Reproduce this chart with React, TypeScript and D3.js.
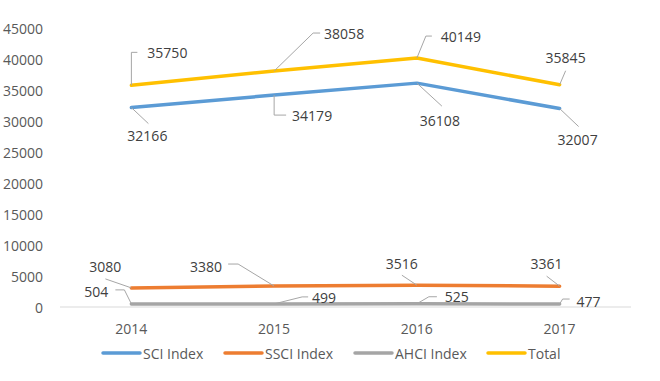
import React from "react";
import * as d3 from "d3";

const years = ["2014", "2015", "2016", "2017"];
const seriesNames = ["SCI Index", "SSCI Index", "AHCI Index", "Total"];
const sci = [32166, 34179, 36108, 32007];
const ssci = [3080, 3380, 3516, 3361];
const ahci = [504, 499, 525, 477];
const total = [35750, 38058, 40149, 35845];
const yTicks = [0, 5000, 10000, 15000, 20000, 25000, 30000, 35000, 40000, 45000];

const colors = ["#5B9BD5", "#ED7D31", "#A5A5A5", "#FFC000"];

// label layout: text center offset [dx, dy] and leader polyline (relative to point)
type Lab = { t: [number, number]; l: [number, number][] };
const sciLabels: Lab[] = [
  { t: [16, 28], l: [[0, 0], [17, 16]] },
  { t: [38, 20], l: [[0, 0], [0, 20], [12, 20]] },
  { t: [23, 37], l: [[0, 0], [25, 23]] },
  { t: [18, 31], l: [[0, 0], [19, 18]] },
];
const ssciLabels: Lab[] = [
  { t: [-26, -21], l: [[0, 0], [-26, -9]] },
  { t: [-68, -20], l: [[0, 0], [-36, -22], [-46, -22]] },
  { t: [-15, -22], l: [[0, 0], [-15, -10]] },
  { t: [-13, -23], l: [[0, 0], [-13, -10]] },
];
const ahciLabels: Lab[] = [
  { t: [-35, -12], l: [[0, 0], [-7, -14], [-16, -14]] },
  { t: [50, -6], l: [[0, 0], [28, -7], [34, -7]] },
  { t: [40, -7], l: [[0, 0], [12, -7], [20, -7]] },
  { t: [29, -3], l: [[0, 0], [3, -5], [10, -5]] },
];
const totalLabels: Lab[] = [
  { t: [36, -33], l: [[0, 0], [0, -33], [6, -33]] },
  { t: [70, -38], l: [[0, 0], [39, -38], [46, -38]] },
  { t: [44, -22], l: [[0, 0], [9, -22], [15, -22]] },
  { t: [6, -27], l: [[0, 0], [6, -14]] },
];

const series = [
  { name: seriesNames[0], values: sci, labels: sciLabels },
  { name: seriesNames[1], values: ssci, labels: ssciLabels },
  { name: seriesNames[2], values: ahci, labels: ahciLabels },
  { name: seriesNames[3], values: total, labels: totalLabels },
];

const W = 660;
const H = 381;
const FONT = "'Open Sans', 'Liberation Sans', sans-serif";
const TEXT = "#595959";

export default function App() {
  const x = d3.scaleBand().domain(years).range([60, 631]);
  const cx = (d: string) => (x(d) as number) + x.bandwidth() / 2;
  const y = d3.scaleLinear().domain([0, 45000]).range([307, 28]);
  const line = d3
    .line<number>()
    .x((_, i) => cx(years[i]))
    .y((v) => y(v));
  const leader = d3.line<[number, number]>();

  const legendX = [103, 225, 355, 488];

  return (
    <svg
      width={W}
      height={H}
      style={{ position: "absolute", left: 0, top: 0, background: "#fff" }}
      fontFamily={FONT}
    >
      <rect width={W} height={H} fill="#fff" />
      {yTicks.map((t) => (
        <text
          key={t}
          x={43}
          y={y(t)}
          textAnchor="end"
          dominantBaseline="central"
          fontSize={14}
          fill={TEXT}
        >
          {t}
        </text>
      ))}
      <line x1={60} x2={631} y1={y(0)} y2={y(0)} stroke="#D9D9D9" strokeWidth={1} />
      {years.map((yr) => (
        <text
          key={yr}
          x={cx(yr)}
          y={328}
          textAnchor="middle"
          dominantBaseline="central"
          fontSize={14}
          fill={TEXT}
        >
          {yr}
        </text>
      ))}
      {series.map((s, si) => (
        <path
          key={s.name}
          d={line(s.values) as string}
          fill="none"
          stroke={colors[si]}
          strokeWidth={3.5}
          strokeLinejoin="round"
          strokeLinecap="round"
        />
      ))}
      {series.map((s, si) =>
        s.values.map((v, i) => {
          const px = cx(years[i]);
          const py = y(v);
          const lab = s.labels[i];
          const pts = lab.l.map(([a, b]) => [px + a, py + b] as [number, number]);
          return (
            <g key={`${si}-${i}`}>
              <path d={leader(pts) as string} fill="none" stroke="#A6A6A6" strokeWidth={1} />
              <text
                x={px + lab.t[0]}
                y={py + lab.t[1]}
                textAnchor="middle"
                dominantBaseline="central"
                fontSize={14}
                fill="#404040"
              >
                {v}
              </text>
            </g>
          );
        })
      )}
      {series.map((s, si) => (
        <g key={`lg-${si}`}>
          <line
            x1={legendX[si]}
            x2={legendX[si] + 37}
            y1={353}
            y2={353}
            stroke={colors[si]}
            strokeWidth={3.5}
            strokeLinecap="round"
          />
          <text
            x={legendX[si] + 40}
            y={353}
            dominantBaseline="central"
            fontSize={14}
            fill={TEXT}
          >
            {s.name}
          </text>
        </g>
      ))}
    </svg>
  );
}
